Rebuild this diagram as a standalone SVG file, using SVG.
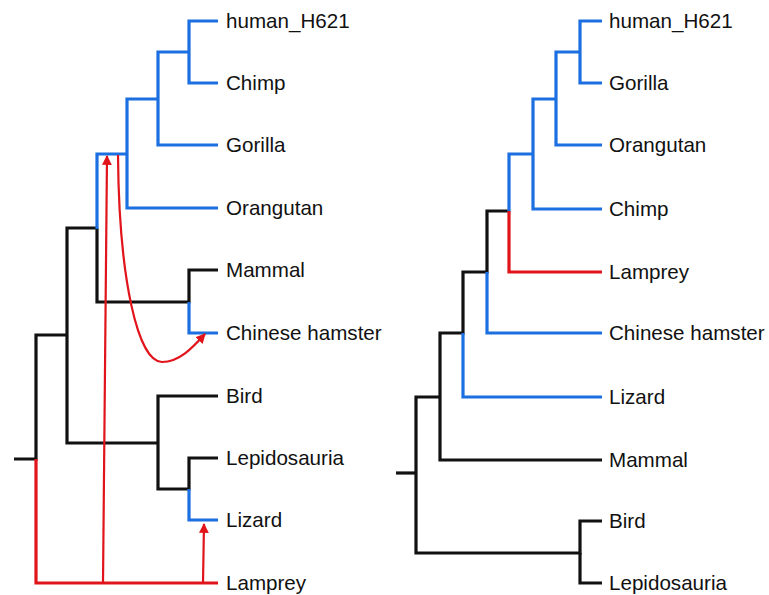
<svg xmlns="http://www.w3.org/2000/svg" width="769" height="595" viewBox="0 0 769 595">
<style>
.b{stroke:#1c6fe0;fill:none;stroke-width:3.2}
.k{stroke:#111;fill:none;stroke-width:3.2}
.r{stroke:#e0141a;fill:none;stroke-width:3.2}
.a{stroke:#e0141a;fill:none;stroke-width:2.2}
text{font-family:"Liberation Sans",Arial,sans-serif;font-size:20.6px;fill:#111}
</style>
<defs>
<marker id="ah" viewBox="0 0 10 10" refX="9" refY="5" markerWidth="4.5" markerHeight="4.5" orient="auto" markerUnits="strokeWidth">
<path d="M0,0 L10,5 L0,10 z" fill="#e0141a"/>
</marker>
</defs>
<rect width="769" height="595" fill="#fff"/>
<g id="connectors">
<g id="left-tree">
<path class="k" d="M97,228 V302 H189 V270 H218"/>
<path class="k" d="M97,228 H67 V443 H158"/>
<path class="k" d="M67,335 H36 V459 H14"/>
<path class="k" d="M218,396 H158 V489 H189 V458 H218"/>
<path class="b" d="M218,21 H189 V83 H218"/>
<path class="b" d="M189,52 H158 V145 H218"/>
<path class="b" d="M158,99 H127 V208 H218"/>
<path class="b" d="M127,154 H97 V229"/>
<path class="b" d="M189,302 V333 H218"/>
<path class="b" d="M189,489 V520 H218"/>
<path class="r" d="M36,459 V583 H218"/>
<path class="a" d="M103,583 L107,156" marker-end="url(#ah)"/>
<path class="a" d="M118,155 C119,280 138,362 162,362 C180,362 194,346 205,334" marker-end="url(#ah)"/>
<path class="a" d="M203,583 L204,524" marker-end="url(#ah)"/>
</g>
<g id="right-tree">
<path class="k" d="M509,211 H487 V272 H463 V333 H440 V460 H602"/>
<path class="k" d="M440,397 H416 V553 H580 V521 H602"/>
<path class="k" d="M580,553 V583 H602"/>
<path class="k" d="M416,473 H396"/>
<path class="b" d="M602,21 H580 V83 H602"/>
<path class="b" d="M580,52 H556 V145 H602"/>
<path class="b" d="M556,99 H533 V209 H602"/>
<path class="b" d="M533,154 H509 V212"/>
<path class="b" d="M487,272 V333 H602"/>
<path class="b" d="M463,333 V397 H602"/>
<path class="r" d="M509,211 V272 H602"/>
</g>
</g>
<g id="L-human"><text x="226" y="28">human_H621</text></g>
<g id="L-chimp"><text x="226" y="90">Chimp</text></g>
<g id="L-gorilla"><text x="226" y="152">Gorilla</text></g>
<g id="L-orangutan"><text x="226" y="215">Orangutan</text></g>
<g id="L-mammal"><text x="226" y="277">Mammal</text></g>
<g id="L-hamster"><text x="226" y="340">Chinese hamster</text></g>
<g id="L-bird"><text x="226" y="403">Bird</text></g>
<g id="L-lepido"><text x="226" y="465">Lepidosauria</text></g>
<g id="L-lizard"><text x="226" y="527">Lizard</text></g>
<g id="L-lamprey"><text x="226" y="590">Lamprey</text></g>
<g id="R-human"><text x="609" y="28">human_H621</text></g>
<g id="R-gorilla"><text x="609" y="90">Gorilla</text></g>
<g id="R-orangutan"><text x="609" y="152">Orangutan</text></g>
<g id="R-chimp"><text x="609" y="216">Chimp</text></g>
<g id="R-lamprey"><text x="609" y="279">Lamprey</text></g>
<g id="R-hamster"><text x="609" y="340">Chinese hamster</text></g>
<g id="R-lizard"><text x="609" y="404">Lizard</text></g>
<g id="R-mammal"><text x="609" y="467">Mammal</text></g>
<g id="R-bird"><text x="609" y="528">Bird</text></g>
<g id="R-lepido"><text x="609" y="590">Lepidosauria</text></g>
</svg>
